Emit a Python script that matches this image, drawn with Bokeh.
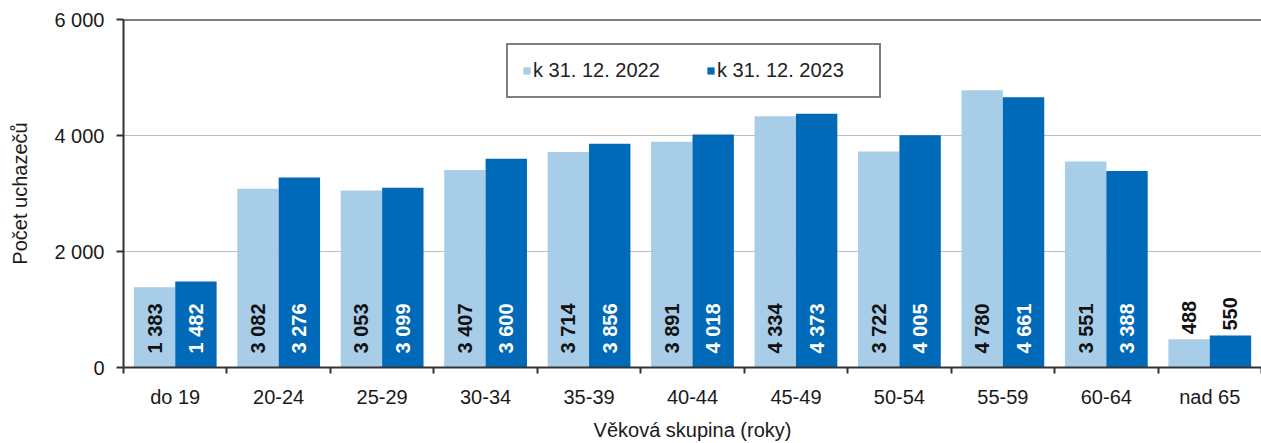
import numpy as np
from bokeh.plotting import figure
from bokeh.models import (ColumnDataSource, Range1d, FixedTicker, CustomJSTickFormatter,
                          Legend, LegendItem, Span)
from bokeh.core.properties import value
from bokeh.embed import file_html
from bokeh.resources import INLINE

categories = ["do 19", "20-24", "25-29", "30-34", "35-39", "40-44", "45-49",
              "50-54", "55-59", "60-64", "nad 65"]
series_2022 = [1383, 3082, 3053, 3407, 3714, 3891, 4334, 3722, 4780, 3551, 488]
series_2023 = [1482, 3276, 3099, 3600, 3856, 4018, 4373, 4005, 4661, 3388, 550]
y_ticks = [0, 2000, 4000, 6000]
legend_labels = ["k 31. 12. 2022", "k 31. 12. 2023"]

LIGHT = "#A8CDE9"
DARK = "#006AB8"
FONT = "Liberation Sans"
FS = "20px"

def fmt(v):
    return "{:,}".format(v).replace(",", " ")

n = len(categories)
idx = np.arange(n)

p = figure(width=1261, height=443, output_backend="svg", toolbar_location=None,
           x_range=Range1d(0, n), y_range=Range1d(0, 6000),
           min_border_left=123, min_border_right=0, min_border_top=19, min_border_bottom=76)
p.outline_line_color = None
p.background_fill_color = "white"
p.border_fill_color = "white"

def make_src(vals, xoff, inside_color):
    big = [v >= 1000 for v in vals]
    return ColumnDataSource(dict(
        x=idx + xoff, top=vals,
        label=[fmt(v) for v in vals],
        ly=[0 if b else v for b, v in zip(big, vals)],
        loff=[-14 if b else -5 for b in big],
        lcol=[inside_color if b else "#111111" for b in big],
    ))

src1 = make_src(series_2022, 0.3, "#111111")
src2 = make_src(series_2023, 0.7, "white")

r1 = p.vbar(x="x", top="top", width=0.4, source=src1, fill_color=LIGHT, line_color=None)
r2 = p.vbar(x="x", top="top", width=0.4, source=src2, fill_color=DARK, line_color=None)

for s in (src1, src2):
    p.text(x="x", y="ly", text="label", source=s, angle=np.pi / 2, y_offset="loff",
           text_align="left", text_baseline="middle", text_color="lcol",
           text_font=value(FONT), text_font_size=FS, text_font_style="bold")

p.add_layout(Span(location=6000, dimension="width", line_color="black", line_width=2))

# axes
xa = p.xaxis[0]
xa.ticker = FixedTicker(ticks=list(idx + 0.5), minor_ticks=list(range(n + 1)))
xa.formatter = CustomJSTickFormatter(args=dict(labels=categories),
                                     code="return labels[Math.floor(tick)] || ''")
xa.major_tick_out = 0
xa.major_tick_in = 0
xa.minor_tick_out = 6
xa.minor_tick_in = 0
xa.minor_tick_line_color = "#333333"
xa.minor_tick_line_width = 2
xa.axis_line_color = "#333333"
xa.axis_line_width = 2
xa.major_label_text_font = FONT
xa.major_label_text_font_size = FS
xa.major_label_text_color = "#1a1a1a"
xa.major_label_standoff = 12
xa.axis_label = "Věková skupina (roky)"
xa.axis_label_text_font = FONT
xa.axis_label_text_font_size = FS
xa.axis_label_text_font_style = "normal"
xa.axis_label_text_color = "#1a1a1a"
xa.axis_label_standoff = 8

ya = p.yaxis[0]
ya.ticker = FixedTicker(ticks=y_ticks)
ya.formatter = CustomJSTickFormatter(
    code="return String(tick).replace(/\\B(?=(\\d{3})+(?!\\d))/g, ' ')")
ya.minor_tick_line_color = None
ya.major_tick_out = 7
ya.major_tick_in = 0
ya.major_tick_line_color = "#333333"
ya.major_tick_line_width = 2
ya.axis_line_color = "#333333"
ya.axis_line_width = 2
ya.major_label_text_font = FONT
ya.major_label_text_font_size = FS
ya.major_label_text_color = "#1a1a1a"
ya.major_label_standoff = 12
ya.axis_label = "Počet uchazečů"
ya.axis_label_text_font = FONT
ya.axis_label_text_font_size = FS
ya.axis_label_text_font_style = "normal"
ya.axis_label_text_color = "#1a1a1a"
ya.axis_label_standoff = 20

p.xgrid.grid_line_color = None
p.ygrid.ticker = FixedTicker(ticks=y_ticks)
p.ygrid.grid_line_color = "#BEBEBE"
p.ygrid.grid_line_width = 1

legend = Legend(items=[LegendItem(label=legend_labels[0], renderers=[r1]),
                       LegendItem(label=legend_labels[1], renderers=[r2])],
                orientation="horizontal", location=(383, 269))
legend.border_line_color = "black"
legend.border_line_width = 2
legend.background_fill_alpha = 1
legend.label_text_font = FONT
legend.label_text_font_size = FS
legend.label_text_color = "#222222"
legend.glyph_width = 9
legend.glyph_height = 9
legend.label_standoff = 2
legend.label_width = 148
legend.spacing = 25
legend.padding = 14
legend.margin = 0
p.add_layout(legend, "center")

open("out.html", "w").write(file_html(p, INLINE))
